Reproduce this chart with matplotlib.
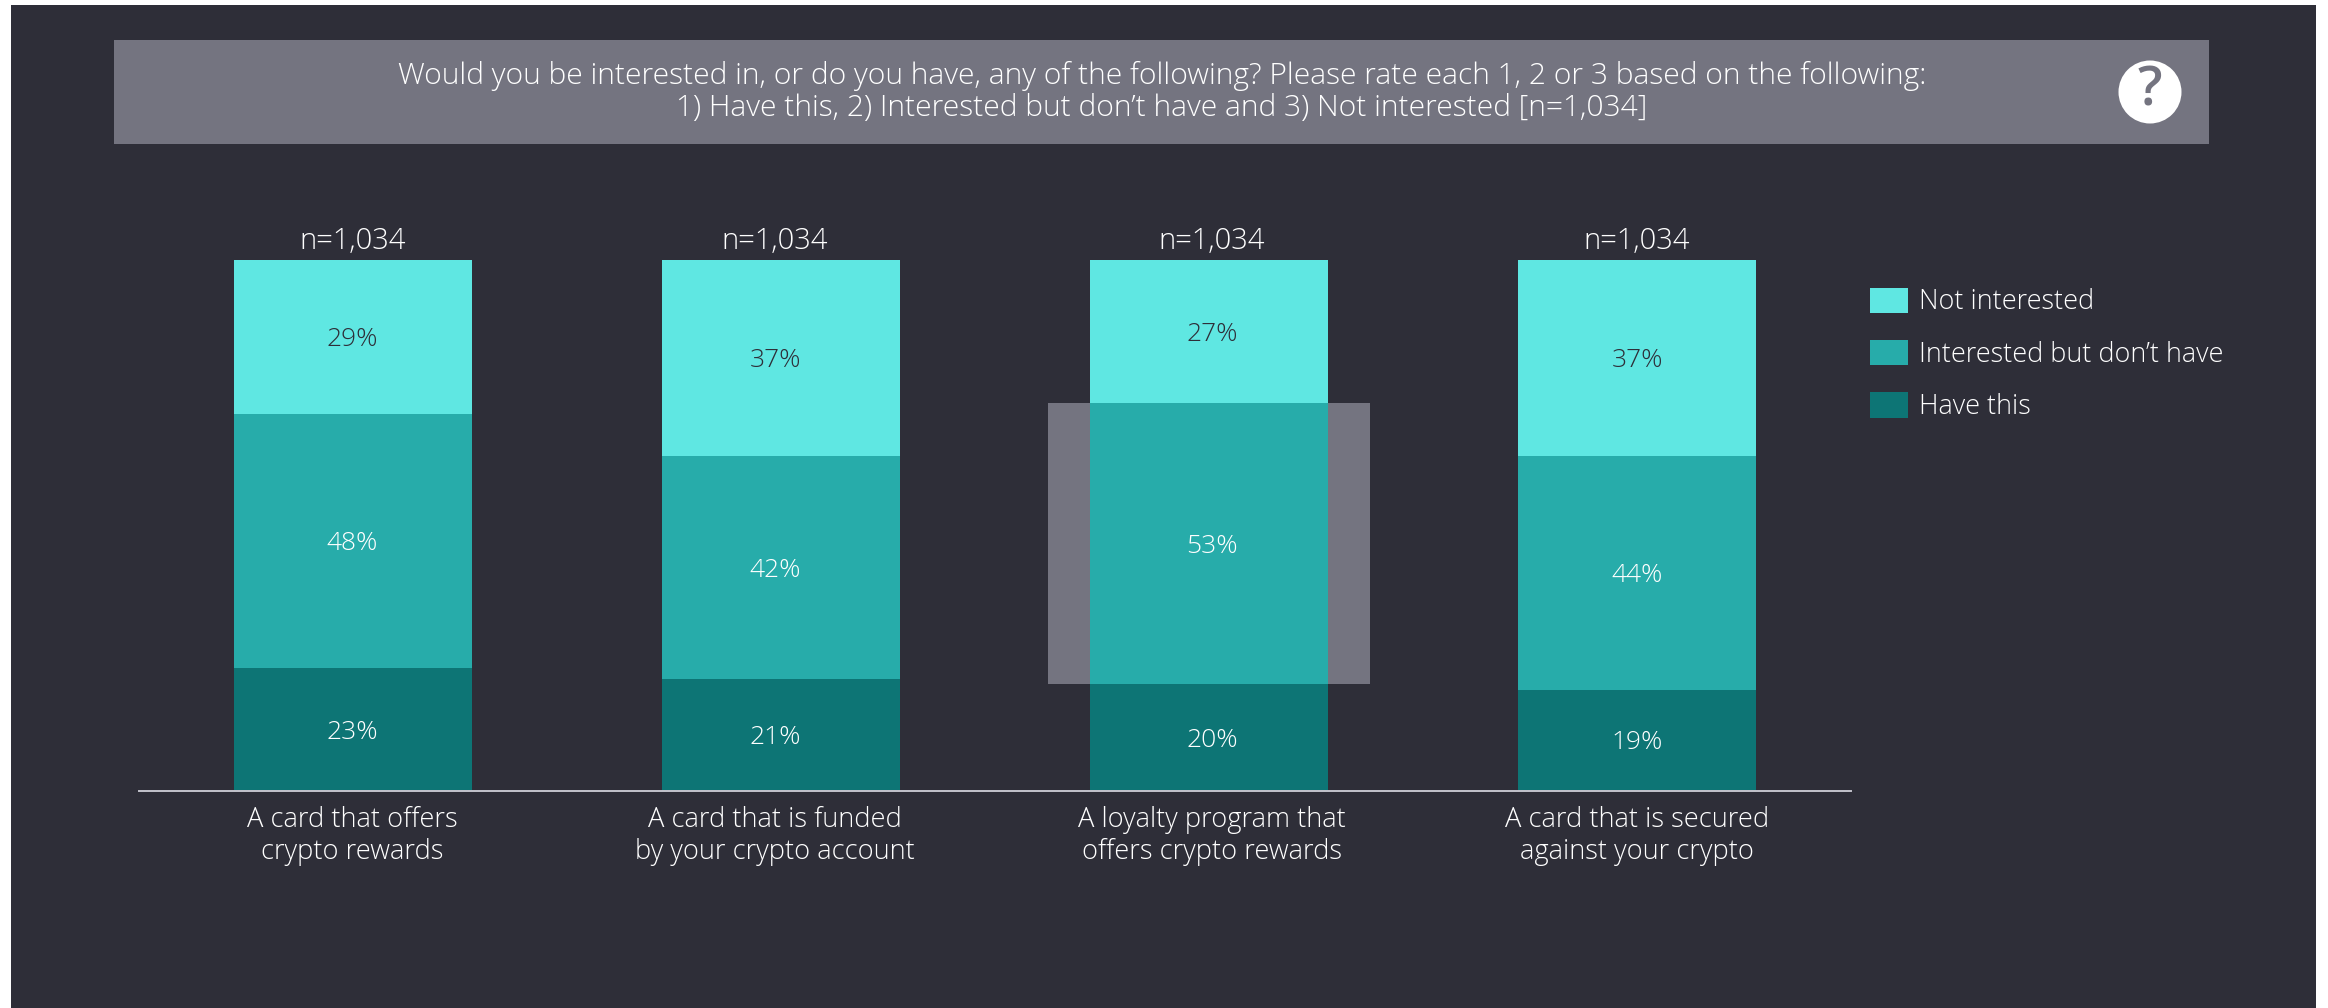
import matplotlib
matplotlib.use('Agg')
import matplotlib.pyplot as plt
from matplotlib.patches import Rectangle, Circle

categories = ['A card that offers\ncrypto rewards',
              'A card that is funded\nby your crypto account',
              'A loyalty program that\noffers crypto rewards',
              'A card that is secured\nagainst your crypto']
have_this = [23, 21, 20, 19]
interested = [48, 42, 53, 44]
not_interested = [29, 37, 27, 37]
sample_label = 'n=1,034'
series_names = ['Not interested', "Interested but don\u2019t have", 'Have this']
question = ('Would you be interested in, or do you have, any of the following? '
            'Please rate each 1, 2 or 3 based on the following:\n'
            '1) Have this, 2) Interested but don\u2019t have and 3) Not interested [n=1,034]')

W, H = 2328, 1008
DARK = '#2e2e38'
GREY = '#747480'
LIGHT_TEAL = '#5fe7e2'
MID_TEAL = '#27acaa'
DEEP_TEAL = '#0d7575'

plt.rcParams['font.family'] = ['Open Sans', 'DejaVu Sans']
plt.rcParams['font.weight'] = 'light'
FS_BANNER = 21.6
FS_N = 21
FS_PCT = 19
FS_CAT = 19.6
FS_LEG = 19.45
LEG_PX = FS_LEG * 100 / 72


def px_rect(x0, y0, x1, y1):
    # pixel box (origin top left) to figure fractions
    return [x0 / W, 1 - y1 / H, (x1 - x0) / W, (y1 - y0) / H]


fig = plt.figure(figsize=(W / 100, H / 100), dpi=100, facecolor='white')

# page background and question banner
bx = px_rect(11, 5, 2316, 1008)
fig.add_artist(Rectangle((bx[0], bx[1]), bx[2], bx[3], transform=fig.transFigure, fc=DARK, ec='none', zorder=-3))
bn = px_rect(114, 40, 2209, 144)
fig.add_artist(Rectangle((bn[0], bn[1]), bn[2], bn[3], transform=fig.transFigure, fc=GREY, ec='none', zorder=-2))
fig.text(1162 / W, 1 - 92 / H, question, color='white', fontsize=FS_BANNER, ha='center', va='center',
         linespacing=1.1)

# help icon
icon = fig.add_axes(px_rect(2110, 52, 2190, 132))
icon.set_xlim(-40, 40)
icon.set_ylim(-40, 40)
icon.axis('off')
icon.add_patch(Circle((0, 0), 31.5, fc='white', ec='none'))
icon.text(0, 0, '?', color=GREY, fontsize=39, fontweight='semibold', ha='center', va='center')

ax = fig.add_axes(px_rect(139, 260, 1851, 790.5))
ax.patch.set_alpha(0)
ax.set_xlim(-0.5, 3.5)
ax.set_ylim(0, 100)

x = list(range(len(categories)))
bar_w = 238 / 428
label_x = [-0.002, -0.014, 0.007, 0.0]

# grey band behind the loyalty program's middle segment
ax.bar(x[2], interested[2], width=322 / 428, bottom=have_this[2], color=GREY, zorder=1)

bottoms_mid = have_this
bottoms_top = [a + b for a, b in zip(have_this, interested)]
b1 = ax.bar(x, have_this, width=bar_w, color=DEEP_TEAL, zorder=2)
b2 = ax.bar(x, interested, width=bar_w, bottom=bottoms_mid, color=MID_TEAL, zorder=2)
b3 = ax.bar(x, not_interested, width=bar_w, bottom=bottoms_top, color=LIGHT_TEAL, zorder=2)


def pct_label(xpos, ypos, value, colour):
    ax.annotate(f'{value}%', (xpos, ypos), xytext=(0, -2), textcoords='offset points', color=colour,
                fontsize=FS_PCT, ha='center', va='center', zorder=3)


for i in x:
    lx = x[i] + label_x[i]
    pct_label(lx, have_this[i] / 2, have_this[i], 'white')
    pct_label(lx, bottoms_mid[i] + interested[i] / 2, interested[i], 'white')
    pct_label(lx, bottoms_top[i] + not_interested[i] / 2, not_interested[i], DARK)
    ax.text(lx, 100.7, sample_label, color='white', fontsize=FS_N, ha='center', va='bottom')

for s in ['top', 'left', 'right']:
    ax.spines[s].set_visible(False)
ax.spines['bottom'].set_color('#c4c4cd')
ax.spines['bottom'].set_linewidth(1.4)
ax.set_yticks([])
ax.set_xticks([i + d for i, d in zip(x, label_x)])
ax.set_xticklabels(categories, color='white', fontsize=FS_CAT, linespacing=1.18)
ax.tick_params(axis='x', length=0, pad=11.5)

leg = fig.legend([b3, b2, b1], series_names, loc='upper left', bbox_to_anchor=(1870 / W, 1 - 287.5 / H),
                 bbox_transform=fig.transFigure, frameon=False, fontsize=FS_LEG, labelcolor='white',
                 borderpad=0, borderaxespad=0, handlelength=38 / LEG_PX, handleheight=29 / LEG_PX,
                 handletextpad=11 / LEG_PX, labelspacing=0.87)

fig.savefig('out.png', dpi=100, facecolor=fig.get_facecolor())
